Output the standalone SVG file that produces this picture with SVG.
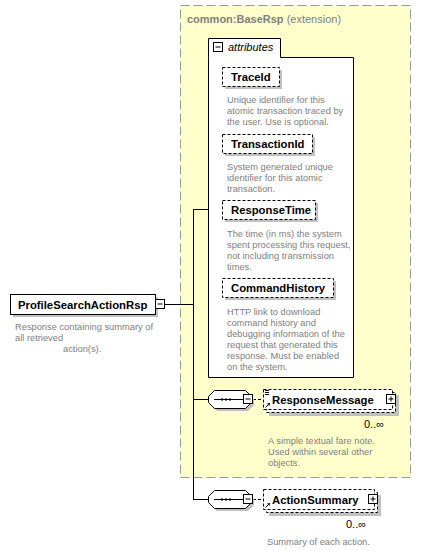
<svg xmlns="http://www.w3.org/2000/svg" width="422" height="551" viewBox="0 0 422 551">
<style>
.bg{fill:#fff}
.sh{fill:#c0c0c0}
.box{fill:#fff;stroke:#000;stroke-width:1}
.dbox{fill:#fff;stroke:#000;stroke-width:1;stroke-dasharray:3,2}
.ln{stroke:#000;stroke-width:1;fill:none}
.dl{stroke:#000;stroke-width:1;fill:none;stroke-dasharray:3,2}
.nm{font-family:"Liberation Sans",Arial,sans-serif;font-weight:bold;font-size:11.3px;fill:#000}
.ds{font-family:"Liberation Sans",Arial,sans-serif;font-size:9.3px;fill:#808080}
.oc{font-family:"Liberation Sans",Arial,sans-serif;font-size:11px;fill:#000}
.tt{font-family:"Liberation Sans",Arial,sans-serif;font-size:11px;fill:#808080}
</style>
<defs>
<g id="minus"><rect x="0.5" y="0.5" width="9" height="9" class="box"/><path d="M2.5 5H7.5" class="ln"/></g>
<g id="plus"><rect x="0.5" y="0.5" width="9" height="9" class="box"/><path d="M2.5 5H7.5M5 2.5V7.5" class="ln"/></g>
<g id="seq">
<path d="M9 3H40L46 9V15L40 21H9L3 15V9Z" class="sh"/>
<path d="M6.5 0.5H37.5L43.5 6.5V12.5L37.5 18.5H6.5L0.5 12.5V6.5Z" fill="#fff" stroke="#000"/>
<path d="M6 9.5H36" class="ln"/>
<path d="M13 9.5H23" stroke="#000" stroke-width="2" stroke-dasharray="2,2" fill="none"/>
</g>
<g id="refarrow"><path d="M0.5 5.5L4.5 1.5" class="ln"/><path d="M5 1L2 1.5L4.5 4Z" fill="#000"/></g>
</defs>

<g id="extension">
<rect x="180.5" y="5.5" width="230" height="472" fill="#ffffcc" stroke="#999" stroke-dasharray="9,4"/>
<text x="187" y="23" class="tt"><tspan font-weight="bold">common:BaseRsp</tspan> (extension)</text>
</g>

<g id="attributes">
<path d="M208.5 57.5V38.5H280.5V57.5H353.5V377.5H208.5Z" fill="#fff" stroke="#000"/>
<use href="#minus" x="213" y="42"/>
<text x="228" y="51" font-family="Liberation Sans,Arial,sans-serif" font-size="11px" font-style="italic">attributes</text>
</g>

<g id="TraceId">
<rect x="225" y="70" width="57" height="19" class="sh"/>
<rect x="222.5" y="67.5" width="57" height="19" class="dbox"/>
<text x="231" y="80.5" class="nm">TraceId</text>
<text class="ds"><tspan x="227" y="103">Unique identifier for this</tspan><tspan x="227" y="114">atomic transaction traced by</tspan><tspan x="227" y="125">the user. Use is optional.</tspan></text>
</g>

<g id="TransactionId">
<rect x="225" y="137" width="90" height="19" class="sh"/>
<rect x="222.5" y="134.5" width="90" height="19" class="dbox"/>
<text x="231" y="147.5" class="nm">TransactionId</text>
<text class="ds"><tspan x="227" y="170">System generated unique</tspan><tspan x="227" y="181">identifier for this atomic</tspan><tspan x="227" y="192">transaction.</tspan></text>
</g>

<g id="ResponseTime">
<rect x="225" y="203" width="93" height="19" class="sh"/>
<rect x="222.5" y="200.5" width="93" height="19" class="dbox"/>
<text x="231" y="214" class="nm">ResponseTime</text>
<text class="ds"><tspan x="227" y="237">The time (in ms) the system</tspan><tspan x="227" y="248">spent processing this request,</tspan><tspan x="227" y="259">not including transmission</tspan><tspan x="227" y="270">times.</tspan></text>
</g>

<g id="CommandHistory">
<rect x="225" y="281" width="111" height="19" class="sh"/>
<rect x="222.5" y="278.5" width="111" height="19" class="dbox"/>
<text x="231" y="292" class="nm">CommandHistory</text>
<text class="ds"><tspan x="227" y="315">HTTP link to download</tspan><tspan x="227" y="326">command history and</tspan><tspan x="227" y="337">debugging information of the</tspan><tspan x="227" y="348">request that generated this</tspan><tspan x="227" y="359">response. Must be enabled</tspan><tspan x="227" y="370">on the system.</tspan></text>
</g>

<g id="connectors">
<path d="M165 304.5H193.5M193.5 209V499.5M193 209.5H208M193 399.5H208M193 499.5H208" class="ln"/>
<path d="M253 399.5H263M253 499.5H263" class="dl"/>
</g>

<g id="ProfileSearchActionRsp">
<rect x="13" y="297" width="145" height="20" class="sh"/>
<rect x="10.5" y="294.5" width="145" height="20" class="box"/>
<text x="18" y="308.5" class="nm">ProfileSearchActionRsp</text>
<use href="#minus" x="155" y="299"/>
<text class="ds"><tspan x="15" y="330">Response containing summary of</tspan><tspan x="15" y="341">all retrieved</tspan><tspan x="63" y="352">action(s).</tspan></text>
</g>

<g id="seq1">
<use href="#seq" x="208" y="390"/>
<use href="#minus" x="243" y="394"/>
</g>

<g id="ResponseMessage">
<rect x="269" y="395" width="130" height="21" class="sh"/>
<rect x="266.5" y="392.5" width="129" height="20" class="dbox"/>
<rect x="263.5" y="389.5" width="129" height="20" class="dbox"/>
<path d="M265 390.5H269M265 392.5H269M265 394.5H269" class="ln"/>
<use href="#refarrow" x="265" y="402"/>
<text x="272" y="403.5" class="nm">ResponseMessage</text>
<use href="#plus" x="386" y="394"/>
<text x="364" y="428" class="oc">0..∞</text>
<text class="ds"><tspan x="268" y="444">A simple textual fare note.</tspan><tspan x="268" y="455">Used within several other</tspan><tspan x="268" y="466">objects.</tspan></text>
</g>

<g id="seq2">
<use href="#seq" x="208" y="490"/>
<use href="#minus" x="243" y="494"/>
</g>

<g id="ActionSummary">
<rect x="269" y="495" width="112" height="21" class="sh"/>
<rect x="266.5" y="492.5" width="111" height="20" class="dbox"/>
<rect x="263.5" y="489.5" width="111" height="20" class="dbox"/>
<use href="#refarrow" x="265" y="502"/>
<text x="272" y="503.5" class="nm">ActionSummary</text>
<use href="#plus" x="368" y="494"/>
<text x="346" y="528" class="oc">0..∞</text>
<text x="267" y="545" class="ds">Summary of each action.</text>
</g>
</svg>
